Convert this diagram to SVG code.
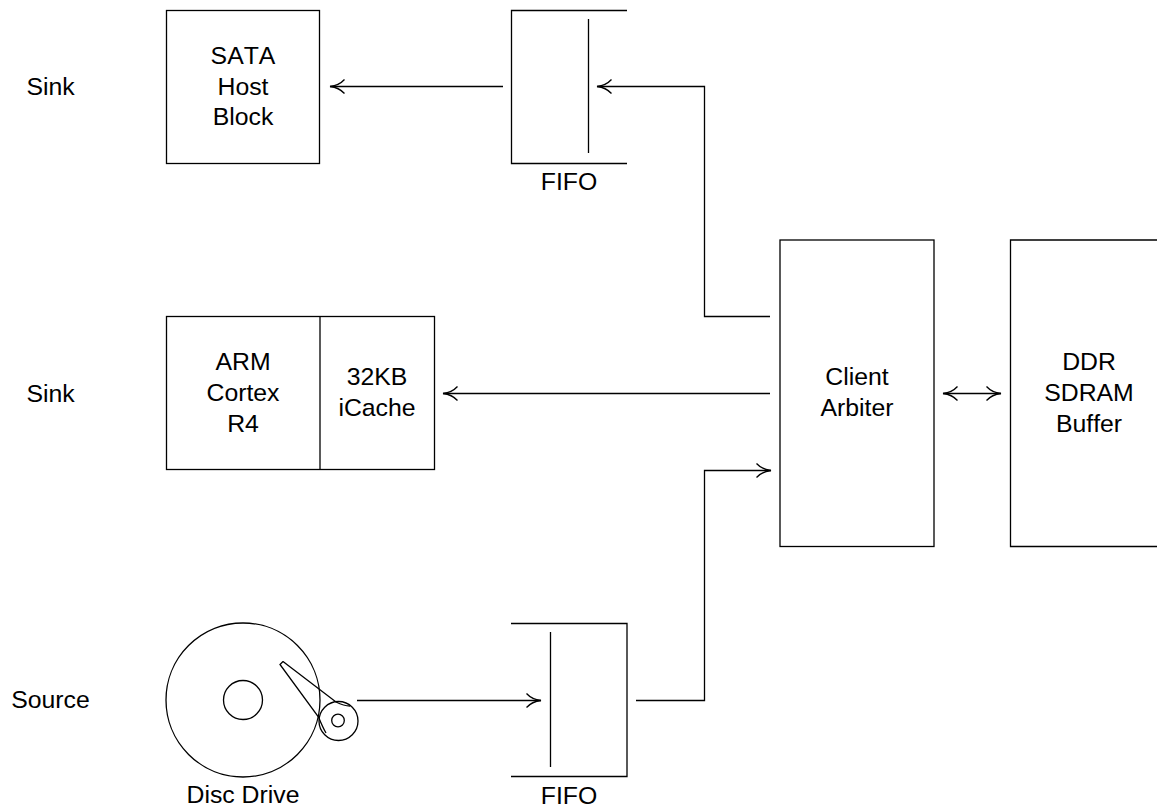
<svg xmlns="http://www.w3.org/2000/svg" width="1157" height="808" viewBox="0 0 1157 808">
<style>
.s{fill:none;stroke:#000;stroke-width:1.3}
text{font-family:"Liberation Sans",Arial,sans-serif;font-size:24.8px;font-kerning:none;fill:#000;text-anchor:middle}
</style>
<defs>
<marker id="a" markerUnits="userSpaceOnUse" markerWidth="18" markerHeight="18" refX="15" refY="9" orient="auto-start-reverse"><path d="M0.500 2Q6 8 15 9Q6 10 0.500 16" class="s"/></marker>
</defs>
<rect width="1157" height="808" fill="#fff"/>
<g id="connectors">
<path class="s" d="M503 86.500H330" marker-end="url(#a)"/>
<path class="s" d="M770 316.500H704.500V86.500H597" marker-end="url(#a)"/>
<path class="s" d="M770 393.500H443" marker-end="url(#a)"/>
<path class="s" d="M636 700.500H704.500V470.500H771" marker-end="url(#a)"/>
<path class="s" d="M357 700.500H541" marker-end="url(#a)"/>
<path class="s" d="M943 393.500H1001" marker-start="url(#a)" marker-end="url(#a)"/>
</g>
<g id="label-sink-1"><text x="50.500" y="95">Sink</text></g>
<g id="label-sink-2"><text x="50.500" y="402">Sink</text></g>
<g id="label-source"><text x="50.500" y="708">Source</text></g>
<g id="sata"><rect class="s" x="166.500" y="10.500" width="153" height="153"/><text x="243" y="64">SATA</text><text x="243" y="95">Host</text><text x="243" y="125">Block</text></g>
<g id="fifo-top"><path class="s" d="M627 10.500H511.500V163.500H627M588.500 19V153"/><text x="569" y="190">FIFO</text></g>
<g id="arm"><rect class="s" x="166.500" y="316.500" width="268" height="153"/><path class="s" d="M320 316.500V469.500"/><text x="243" y="370">ARM</text><text x="243" y="401">Cortex</text><text x="243" y="432">R4</text><text x="377" y="385">32KB</text><text x="377" y="416">iCache</text></g>
<g id="arbiter"><rect class="s" x="780" y="240" width="154" height="306.500"/><text x="857" y="385">Client</text><text x="857" y="416">Arbiter</text></g>
<g id="ddr"><path class="s" d="M1157 240H1010.500V546.500H1157"/><text x="1089" y="370">DDR</text><text x="1089" y="401">SDRAM</text><text x="1089" y="432">Buffer</text></g>
<g id="disc"><circle class="s" cx="243" cy="700" r="77"/><circle class="s" cx="243" cy="700" r="19.500"/><circle class="s" cx="338.500" cy="721" r="19.500"/><circle class="s" cx="338" cy="720.500" r="6.300"/><path class="s" d="M283 661.500L280 664.500L318.500 717Q323 728 326 733M283 661.500L336 702Q344 706 350 706"/><text x="243" y="803">Disc Drive</text></g>
<g id="fifo-bottom"><path class="s" d="M511 623.500H627V776.500H511M550.500 632V767"/><text x="569" y="804">FIFO</text></g>
</svg>
